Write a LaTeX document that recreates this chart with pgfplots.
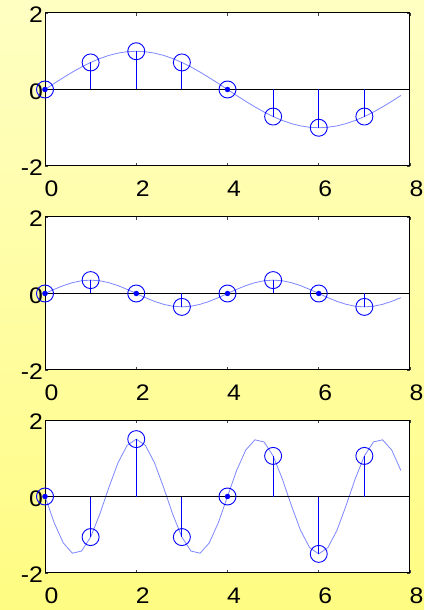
\documentclass[border=0pt]{standalone}
\usepackage{fontspec}
\setmainfont{Liberation Sans}
\newfontfamily\tickfont[FakeStretch=1.1]{Liberation Sans}
\usepackage{pgfplots}
\usepackage{pgfplotstable}
\pgfplotsset{compat=1.18}

\definecolor{stemblue}{RGB}{0,0,255}
\definecolor{tracecol}{RGB}{125,135,255}
\definecolor{bgtop}{RGB}{255,255,195}
\definecolor{bgbot}{RGB}{255,252,130}

% continuous signals sampled every 0.2
\pgfplotstableread{
t   s1      s2      s3
0.0  0       0       0
0.2  0.1564  0.108  -0.681
0.4  0.3090  0.206  -1.214
0.6  0.4540  0.283  -1.482
0.8  0.5878  0.333  -1.427
1.0  0.7071  0.35   -1.061
1.2  0.8090  0.333  -0.464
1.4  0.8910  0.283   0.235
1.6  0.9511  0.206   0.882
1.8  0.9877  0.108   1.337
2.0  1       0       1.5
2.2  0.9877 -0.108   1.337
2.4  0.9511 -0.206   0.882
2.6  0.8910 -0.283   0.235
2.8  0.8090 -0.333  -0.464
3.0  0.7071 -0.35   -1.061
3.2  0.5878 -0.333  -1.427
3.4  0.4540 -0.283  -1.482
3.6  0.3090 -0.206  -1.214
3.8  0.1564 -0.108  -0.681
4.0  0       0       0
4.2 -0.1564  0.108   0.681
4.4 -0.3090  0.206   1.214
4.6 -0.4540  0.283   1.482
4.8 -0.5878  0.333   1.427
5.0 -0.7071  0.35    1.061
5.2 -0.8090  0.333   0.464
5.4 -0.8910  0.283  -0.235
5.6 -0.9511  0.206  -0.882
5.8 -0.9877  0.108  -1.337
6.0 -1       0      -1.5
6.2 -0.9877 -0.108  -1.337
6.4 -0.9511 -0.206  -0.882
6.6 -0.8910 -0.283  -0.235
6.8 -0.8090 -0.333   0.464
7.0 -0.7071 -0.35    1.061
7.2 -0.5878 -0.333   1.427
7.4 -0.4540 -0.283   1.482
7.6 -0.3090 -0.206   1.214
7.8 -0.1564 -0.108   0.681
}\curves

% discrete samples n = 0..7
\pgfplotstableread{
n  x1      x2     x3
0  0       0      0
1  0.7071  0.35  -1.0607
2  1       0      1.5
3  0.7071 -0.35  -1.0607
4  0       0      0
5 -0.7071  0.35   1.0607
6 -1       0     -1.5
7 -0.7071 -0.35   1.0607
}\samples

\pgfplotsset{
  panel/.style={
    scale only axis, width=365pt, height=153pt,
    anchor=south west,
    xmin=0, xmax=8, ymin=-2, ymax=2,
    xtick={0,2,4,6,8}, xticklabels={0,2,4,6,8},
    ytick={-2,0,2}, yticklabels={-2,0,2},
    tick align=inside, major tick length=3pt,
    tick style={black!75, line width=0.6pt},
    axis line style={black, line width=1pt},
    axis background/.style={fill=white},
    clip=false,
    ticklabel style={font=\tickfont\fontsize{22.5}{24}\selectfont},
    xticklabel style={inner sep=0pt, yshift=-15pt, xshift=6.5pt},
    yticklabel style={inner sep=0pt, xshift=-2pt, yshift=-2pt},
  },
  trace/.style={tracecol, line width=0.8pt, mark=none},
  base/.style={black, line width=0.8pt, mark=none},
  stem/.style={stemblue, ycomb, line width=0.8pt, mark=o,
    mark size=8.5pt, mark options={line width=0.9pt}},
  dot/.style={stemblue, only marks, mark=*, mark size=2.5pt},
}

\begin{document}
\begin{tikzpicture}
\shade[top color=bgtop, bottom color=bgbot] (0pt,0pt) rectangle (424pt,610pt);
\useasboundingbox (0pt,0pt) rectangle (424pt,610pt);

\begin{axis}[panel, at={(45pt,444pt)}]
  \addplot[trace] table[x=t,y=s1]{\curves};
  \addplot[base] coordinates {(0,0) (8,0)};
  \addplot[stem] table[x=n,y=x1]{\samples};
  \addplot[dot] coordinates {(0,0) (4,0)};
\end{axis}

\begin{axis}[panel, at={(45pt,240pt)}]
  \addplot[trace] table[x=t,y=s2]{\curves};
  \addplot[base] coordinates {(0,0) (8,0)};
  \addplot[stem] table[x=n,y=x2]{\samples};
  \addplot[dot] coordinates {(0,0) (2,0) (4,0) (6,0)};
\end{axis}

\begin{axis}[panel, at={(45pt,37pt)}]
  \addplot[trace] table[x=t,y=s3]{\curves};
  \addplot[base] coordinates {(0,0) (8,0)};
  \addplot[stem] table[x=n,y=x3]{\samples};
  \addplot[dot] coordinates {(0,0) (4,0)};
\end{axis}
\end{tikzpicture}
\end{document}
